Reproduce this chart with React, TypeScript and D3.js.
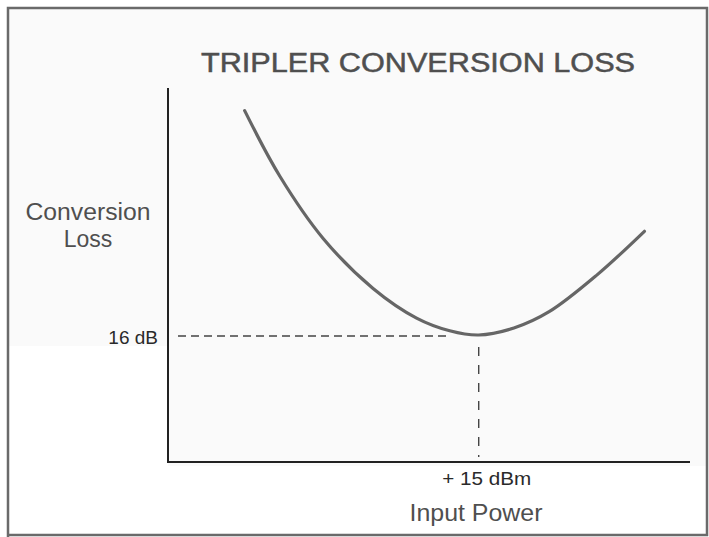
import React from "react";
import * as d3 from "d3";

// Input power (dBm) and conversion loss (dB)
const inputPower = [3.7, 5.4, 7.5, 9.9, 12.0, 13.6, 15.0, 16.7, 18.4, 20.7, 23.0];
const conversionLoss = [26.6, 23.5, 20.55, 18.2, 16.8, 16.2, 16.0, 16.33, 17.1, 18.83, 20.9];
const markerPower = [15];
const markerLoss = [16];
const xTickLabels = ["+ 15 dBm"];
const yTickLabels = ["16 dB"];
const title = "TRIPLER  CONVERSION LOSS";
const xTitle = "Input Power";
const yTitle = ["Conversion", "Loss"];

export default function App() {
  const W = 709;
  const H = 537;
  const x = d3.scaleLinear().domain([0, 25.2]).range([168, 690]);
  const y = d3.scaleLinear().domain([10, 27.67]).range([462, 88]);

  const pts: [number, number][] = inputPower.map((p, i) => [p, conversionLoss[i]]);
  const line = d3
    .line<[number, number]>()
    .x((d) => x(d[0]))
    .y((d) => y(d[1]))
    .curve(d3.curveCatmullRom.alpha(0.5));

  const mx = x(markerPower[0]);
  const my = y(markerLoss[0]);
  const font = "'Liberation Sans', Arial, Helvetica, sans-serif";
  const textColor = "#4f4f4f";

  return (
    <div style={{ position: "absolute", left: 0, top: 0 }}>
      <svg width={W} height={H} style={{ display: "block" }}>
        <rect x={0} y={0} width={W} height={H} fill="#ffffff" />
        <rect x={8} y={8} width={699} height={338} fill="#fafafa" />
        <rect x={168} y={346} width={539} height={120} fill="#fafafa" />
        {/* frame */}
        <path d={`M8,537 V8 H707 V535 H8`} fill="none" stroke="#6a6a6a" strokeWidth={2.5} />

        {/* title */}
        <text
          x={418}
          y={72}
          textAnchor="middle"
          fontFamily={font}
          fontSize={27}
          fill={textColor}
          stroke={textColor}
          strokeWidth={0.5}
          textLength={434}
          lengthAdjust="spacingAndGlyphs"
        >
          {title}
        </text>

        {/* axes */}
        <line x1={x(0)} y1={y.range()[1]} x2={x(0)} y2={y(10) + 1} stroke="#222" strokeWidth={2} />
        <line x1={x(0)} y1={y(10)} x2={x.range()[1]} y2={y(10)} stroke="#222" strokeWidth={2.2} />

        {/* dashed guides */}
        <line x1={x(0) + 10} y1={my + 1} x2={mx - 32} y2={my + 1} stroke="#444" strokeWidth={1.4} strokeDasharray="8 5" />
        <line x1={mx} y1={my + 12} x2={mx} y2={y(10) - 5} stroke="#444" strokeWidth={1.4} strokeDasharray="9 9" />

        {/* curve */}
        <path d={line(pts) || ""} fill="none" stroke="#666" strokeWidth={3.2} strokeLinecap="round" />

        {/* tick labels */}
        <text x={158} y={344} textAnchor="end" fontFamily={font} fontSize={19} fill="#2a2a2a">
          {yTickLabels[0]}
        </text>
        <text x={mx + 8} y={485} textAnchor="middle" fontFamily={font} fontSize={18} fill="#2a2a2a"
          textLength={89} lengthAdjust="spacingAndGlyphs">
          {xTickLabels[0]}
        </text>

        {/* axis titles */}
        <text x={88} y={220} textAnchor="middle" fontFamily={font} fontSize={23} fill={textColor}
          textLength={125} lengthAdjust="spacingAndGlyphs">
          {yTitle[0]}
        </text>
        <text x={88} y={247} textAnchor="middle" fontFamily={font} fontSize={23} fill={textColor}>
          {yTitle[1]}
        </text>
        <text x={476} y={521} textAnchor="middle" fontFamily={font} fontSize={24} fill={textColor}
          textLength={133} lengthAdjust="spacingAndGlyphs">
          {xTitle}
        </text>
      </svg>
    </div>
  );
}
